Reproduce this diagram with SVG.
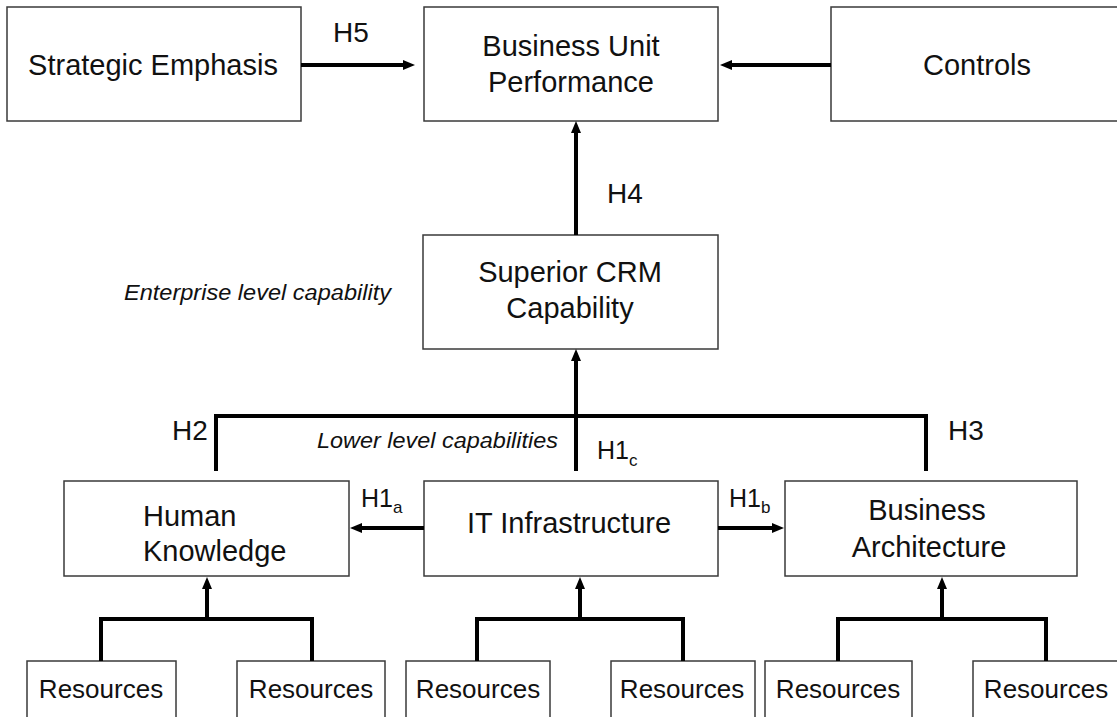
<svg xmlns="http://www.w3.org/2000/svg" width="1117" height="717" viewBox="0 0 1117 717">
  <style>
    .box { fill: #ffffff; stroke: #3a3a3a; stroke-width: 1.5; }
    .t { font-family: "Liberation Sans", Arial, sans-serif; font-size: 29px; fill: #111; }
    .tc { text-anchor: middle; }
    .res { font-family: "Liberation Sans", Arial, sans-serif; font-size: 26px; fill: #111; text-anchor: middle; }
    .h { font-family: "Liberation Sans", Arial, sans-serif; font-size: 28px; fill: #111; }
    .h1 { font-family: "Liberation Sans", Arial, sans-serif; font-size: 25px; fill: #111; }
    .sub { font-size: 17px; }
    .it { font-family: "Liberation Sans", Arial, sans-serif; font-size: 22px; font-style: italic; fill: #111; }
    .con { fill: none; stroke: #000; stroke-width: 4; stroke-linejoin: miter; }
    .arr { marker-end: url(#ah); }
  </style>
  <defs>
    <marker id="ah" viewBox="0 0 12 10" refX="4" refY="5" markerWidth="12" markerHeight="10" markerUnits="userSpaceOnUse" orient="auto">
      <path d="M0,0 L12,5 L0,10 z" fill="#000"/>
    </marker>
  </defs>
  <rect width="1117" height="717" fill="#ffffff"/>

  <g id="strategic-emphasis">
    <rect class="box" x="7" y="7" width="294" height="114"/>
    <text class="t tc" x="153" y="75">Strategic Emphasis</text>
  </g>
  <g id="business-unit-performance">
    <rect class="box" x="424" y="7" width="294" height="114"/>
    <text class="t tc" x="571" y="56">Business Unit</text>
    <text class="t tc" x="571" y="92">Performance</text>
  </g>
  <g id="controls">
    <rect class="box" x="831" y="7" width="292" height="114"/>
    <text class="t tc" x="977" y="75">Controls</text>
  </g>
  <g id="superior-crm">
    <rect class="box" x="423" y="235" width="295" height="114"/>
    <text class="t tc" x="570" y="282">Superior CRM</text>
    <text class="t tc" x="570" y="318">Capability</text>
  </g>
  <g id="human-knowledge">
    <rect class="box" x="64" y="481" width="285" height="95"/>
    <text class="t" x="143" y="526">Human</text>
    <text class="t" x="143" y="561">Knowledge</text>
  </g>
  <g id="it-infrastructure">
    <rect class="box" x="424" y="481" width="294" height="95"/>
    <text class="t tc" x="569" y="533">IT Infrastructure</text>
  </g>
  <g id="business-architecture">
    <rect class="box" x="785" y="481" width="292" height="95"/>
    <text class="t tc" x="927" y="520">Business</text>
    <text class="t tc" x="929" y="557">Architecture</text>
  </g>
  <g id="resources-1">
    <rect class="box" x="27" y="661" width="149" height="70"/>
    <text class="res" x="101" y="698">Resources</text>
  </g>
  <g id="resources-2">
    <rect class="box" x="237" y="661" width="148" height="70"/>
    <text class="res" x="311" y="698">Resources</text>
  </g>
  <g id="resources-3">
    <rect class="box" x="406" y="661" width="144" height="70"/>
    <text class="res" x="478" y="698">Resources</text>
  </g>
  <g id="resources-4">
    <rect class="box" x="611" y="661" width="144" height="70"/>
    <text class="res" x="682" y="698">Resources</text>
  </g>
  <g id="resources-5">
    <rect class="box" x="765" y="661" width="147" height="70"/>
    <text class="res" x="838" y="698">Resources</text>
  </g>
  <g id="resources-6">
    <rect class="box" x="973" y="661" width="150" height="70"/>
    <text class="res" x="1046" y="698">Resources</text>
  </g>

  <g id="connectors">
    <line class="con arr" x1="301" y1="65" x2="407" y2="65"/>
    <line class="con arr" x1="831" y1="65" x2="728" y2="65"/>
    <line class="con arr" x1="576" y1="235" x2="576" y2="129"/>
    <line class="con arr" x1="576" y1="471" x2="576" y2="357"/>
    <polyline class="con" points="216,471 216,416 926,416 926,471"/>
    <line class="con arr" x1="424" y1="528" x2="358" y2="528"/>
    <line class="con arr" x1="718" y1="528" x2="776" y2="528"/>
    <polyline class="con" points="101,661 101,619 312,619 312,661"/>
    <line class="con arr" x1="207" y1="619" x2="207" y2="585"/>
    <polyline class="con" points="477,661 477,619 683,619 683,661"/>
    <line class="con arr" x1="580" y1="619" x2="580" y2="585"/>
    <polyline class="con" points="838,661 838,619 1046,619 1046,661"/>
    <line class="con arr" x1="942" y1="619" x2="942" y2="585"/>
  </g>

  <g id="labels">
    <text class="h" x="333" y="42">H5</text>
    <text class="h" x="607" y="203">H4</text>
    <text class="h" x="172" y="440">H2</text>
    <text class="h" x="948" y="440">H3</text>
    <text class="h1" x="361" y="507">H1<tspan class="sub" dy="6">a</tspan></text>
    <text class="h1" x="729" y="507">H1<tspan class="sub" dy="6">b</tspan></text>
    <text class="h1" x="597" y="459">H1<tspan class="sub" dy="7">c</tspan></text>
    <text class="it" x="124" y="300" textLength="267" lengthAdjust="spacingAndGlyphs">Enterprise level capability</text>
    <text class="it" x="317" y="448" textLength="241" lengthAdjust="spacingAndGlyphs">Lower level capabilities</text>
  </g>
</svg>
